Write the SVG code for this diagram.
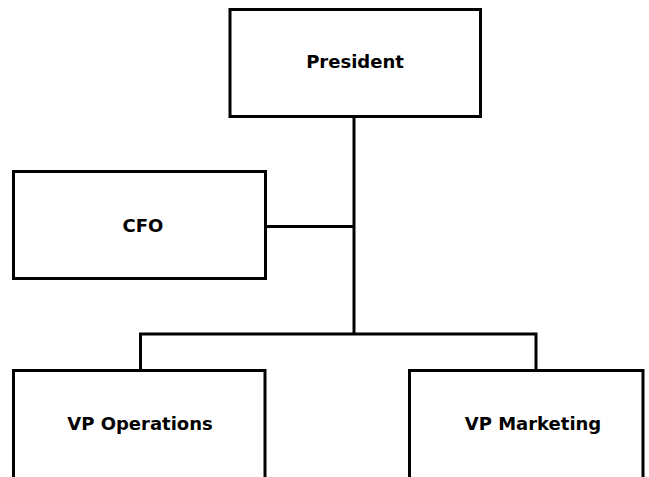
<svg xmlns="http://www.w3.org/2000/svg" width="649" height="477" viewBox="0 0 649 477">
<style>
.box{fill:#fff;stroke:#000;stroke-width:3}
.lbl{font-family:"DejaVu Sans",sans-serif;font-weight:bold;font-size:18px;fill:#000;text-anchor:middle}
.conn{fill:none;stroke:#000;stroke-width:3}
</style>
<rect width="649" height="477" fill="#fff"/>
<g id="connectors">
<path class="conn" d="M354 116.5V334"/>
<path class="conn" d="M265.5 226.5H354"/>
<path class="conn" d="M140.5 370.5V334H536V370.5"/>
</g>
<g id="president"><rect class="box" x="230" y="9.5" width="250.5" height="107"/><text class="lbl" x="355" y="68">President</text></g>
<g id="cfo"><rect class="box" x="13.5" y="171.5" width="252" height="107"/><text class="lbl" x="143" y="232">CFO</text></g>
<g id="vp-operations"><rect class="box" x="13.5" y="370.5" width="251.5" height="120"/><text class="lbl" x="140" y="430">VP Operations</text></g>
<g id="vp-marketing"><rect class="box" x="409.5" y="370.5" width="233.5" height="120"/><text class="lbl" x="533" y="430">VP Marketing</text></g>
</svg>
